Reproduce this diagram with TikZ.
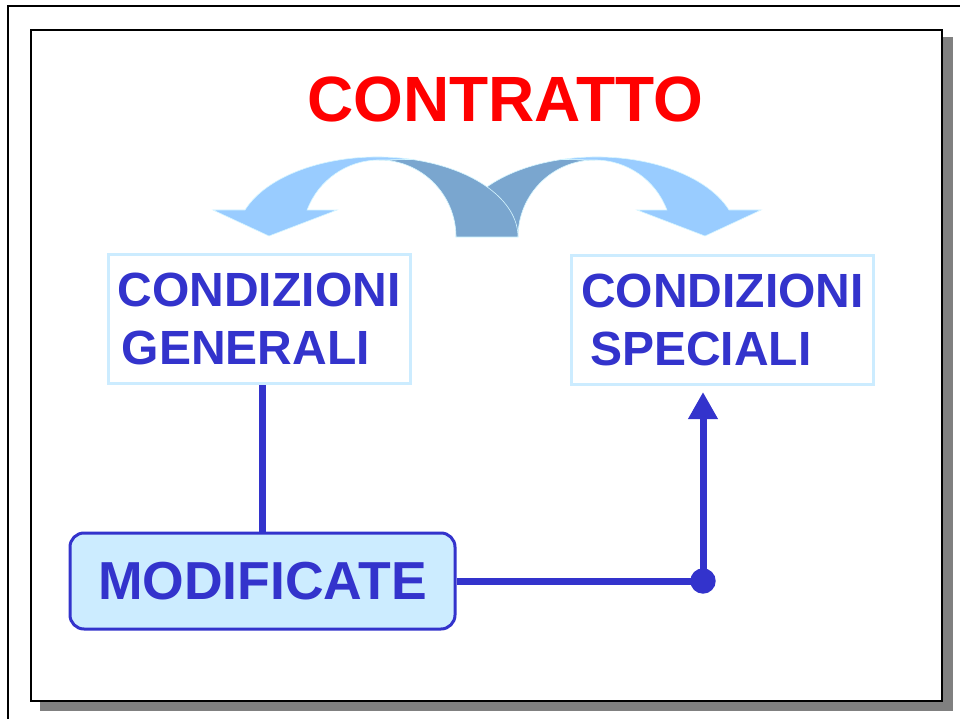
\documentclass[tikz,border=0pt]{standalone}
\usepackage{fontspec}
\setmainfont{Liberation Sans}
\usetikzlibrary{arrows.meta}
\definecolor{txtblue}{RGB}{51,51,204}
\definecolor{lightarr}{RGB}{153,204,255}
\definecolor{darkarr}{RGB}{122,166,207}
\definecolor{boxline}{RGB}{204,236,255}
\definecolor{modfill}{RGB}{204,236,255}
\definecolor{arredge}{RGB}{214,246,255}
\definecolor{shadowgray}{RGB}{128,128,128}
\newcommand\ribbonarrow{%
  \filldraw[darkarr, draw=arredge, line width=0.6pt]
    (379.1,160) arc[start angle=270, end angle=360, x radius=76.9, y radius=77]
    -- (518,237) arc[start angle=360, end angle=284.25, x radius=140.6, y radius=80]
    -- cycle;
  \filldraw[lightarr, draw=arredge, line width=0.6pt]
    (213,210) -- (245,210)
    arc[start angle=199.7, end angle=284.25, x radius=140.6, y radius=80]
    -- (379.1,160)
    arc[start angle=270, end angle=200.5, x radius=76.9, y radius=77]
    -- (337,210) -- (269,236) -- cycle;
}
\tikzset{
  frameline/.style={draw=black, line width=2.5pt},
  condbox/.style={draw=boxline, line width=3pt, fill=white, minimum width=302pt,
    minimum height=129pt, align=left, text=txtblue,
    font=\fontsize{48}{58}\selectfont\bfseries, inner sep=0pt},
  modbox/.style={draw=txtblue, line width=3pt, fill=modfill, rounded corners=14pt,
    minimum width=385pt, minimum height=96pt, text=txtblue,
    font=\fontsize{53.5}{60}\selectfont\bfseries},
  conn/.style={draw=txtblue, line width=7pt},
  title/.style={text=red, font=\fontsize{64}{70}\selectfont\bfseries, inner sep=0pt}
}
\begin{document}
\begin{tikzpicture}[x=1pt, y=-1pt]
  \useasboundingbox (0,0) rectangle (960,719);
  \fill[white] (0,0) rectangle (960,719);
  % outer frame (cropped)
  \draw[frameline] (8,6) rectangle (1010,770);
  % inner frame with shadow
  \fill[shadowgray] (40,37) rectangle (953,711);
  \filldraw[frameline, fill=white] (31,30) rectangle (942,701);
  % title
  \node[title, anchor=base] (title) at (505,122) {CONTRATTO};
  % ribbon arrows
  \begin{scope}[shift={(974,0)}, xscale=-1]
    \ribbonarrow
  \end{scope}
  \ribbonarrow
  % boxes
  \node[condbox] (cg) at (259,318.5) {CONDIZIONI\\\hspace*{4pt}GENERALI};
  \node[condbox] (cs) at (722.5,320) {CONDIZIONI\\\hspace*{9pt}SPECIALI};
  \node[modbox] (mod) at (262.5,581) {MODIFICATE};
  \node[circle, fill=txtblue, minimum size=25.4pt, inner sep=0pt] (dot) at (703,581) {};
  % connectors
  \draw[conn] (mod.north) -- (mod.north |- cg.south);
  \draw[conn] (mod.east) -- (dot.center);
  \draw[conn, -{Triangle[width=28pt, length=27pt]}, shorten >=6pt]
    (dot.center) -- (dot.center |- cs.south);
\end{tikzpicture}
\end{document}
